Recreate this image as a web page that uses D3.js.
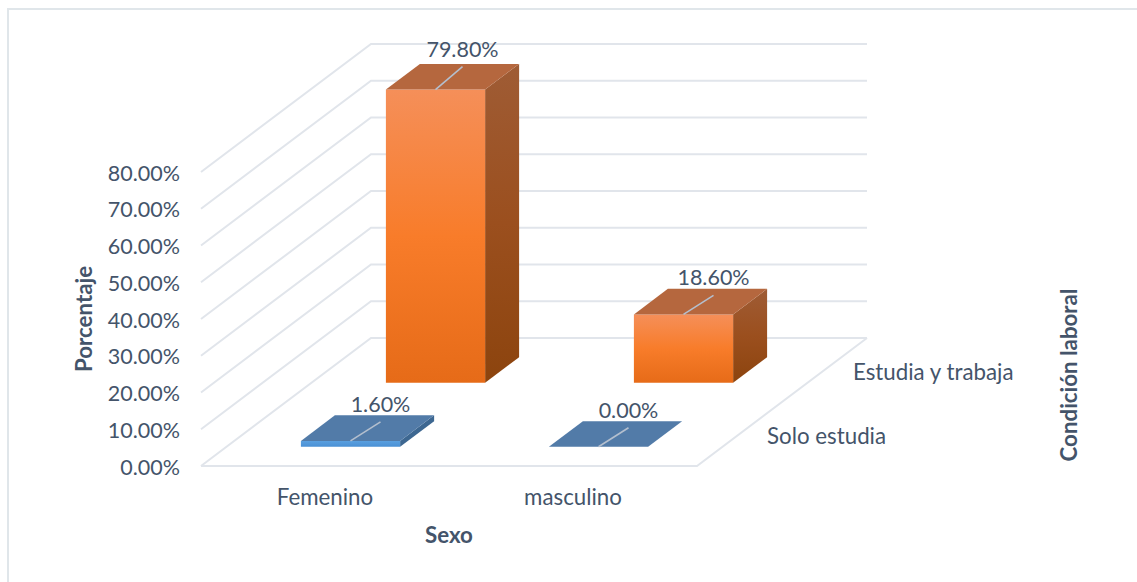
<!DOCTYPE html>
<html><head><meta charset="utf-8">
<script src="https://cdnjs.cloudflare.com/ajax/libs/d3/7.8.5/d3.min.js"></script>
<style>html,body{margin:0;padding:0;background:#fff}svg{display:block}text{font-family:Lato,"Open Sans",sans-serif;fill:#44546a}</style>
</head><body><svg id="c" width="1137" height="582"></svg>
<script>
const categories = ["Femenino", "masculino"];
const seriesNames = ["Solo estudia", "Estudia y trabaja"];
const soloEstudia = [1.6, 0];
const estudiaYTrabaja = [79.8, 18.6];
const valueTicks = [0, 10, 20, 30, 40, 50, 60, 70, 80];

const svg = d3.select("#c");
const defs = svg.append("defs");
function grad(id, stops) {
  const g = defs.append("linearGradient").attr("id", id).attr("x1", 0).attr("x2", 0).attr("y1", 0).attr("y2", 1);
  stops.forEach(s => g.append("stop").attr("offset", s[0]).attr("stop-color", s[1]));
}
grad("oF", [[0, "#f58f59"], [.5, "#f87c2a"], [1, "#e66b18"]]);
grad("oS", [[0, "#9f5c35"], [.5, "#9b4f1e"], [1, "#8c440e"]]);
grad("bF", [[0, "#5aa0e0"], [1, "#4a90d4"]]);

const x = d3.scaleBand().domain(categories).range([201, 697]);
const y = d3.scaleLinear().domain([0, 80]).range([466, 172]);
const z = d3.scaleLinear().domain([0, 1]).range([0, 1]);
const dX = 170, dY = 128;
const project = (px, v, d) => [px + dX * z(d), y(v) - dY * z(d)];
const line = d3.line();
const gridCol = "#e1e5eb";

// frame
svg.append("path").attr("d", "M8,582V9H1137").attr("fill", "none").attr("stroke", "#e0e6ea").attr("stroke-width", 2);

const grid = svg.append("g").attr("fill", "none").attr("stroke", gridCol).attr("stroke-width", 2);
valueTicks.forEach(t => {
  grid.append("path").attr("d", line([project(201, t, 0), project(201, t, 1), [867, y(t) - dY]]));
});
grid.append("path").attr("d", line([project(201, 0, 0), project(697, 0, 0), project(697, 0, 1)]));

// bars
const barW = 0.4 * x.bandwidth(), inset = 0.3 * x.bandwidth();
function bar(cat, value, series) {
  const z0 = series === 0 ? 0.15 : 0.65, z1 = z0 + 0.2;
  const l = x(cat) + inset, r = l + barW;
  const P = (px, v, d) => project(px, v, d);
  const g = svg.append("g");
  const colors = series === 0
    ? { top: "#527ba8", side: "#3d6791", front: "url(#bF)" }
    : { top: "#b5673e", side: "url(#oS)", front: "url(#oF)" };
  if (value > 0) {
    g.append("path").attr("fill", colors.side).attr("d", line([P(r, 0, z0), P(r, 0, z1), P(r, value, z1), P(r, value, z0)]) + "Z");
    g.append("path").attr("fill", colors.front).attr("d", line([P(l, 0, z0), P(r, 0, z0), P(r, value, z0), P(l, value, z0)]) + "Z");
  }
  g.append("path").attr("fill", colors.top).attr("d", line([P(l, value, z0), P(r, value, z0), P(r, value, z1), P(l, value, z1)]) + "Z");
  const a = P((l + r) / 2, value, z0);
  const tall = value > 50;
  const ex = a[0] + (tall ? 27 : 30), ey = a[1] - (tall ? 23 : 19);
  g.append("line").attr("x1", a[0]).attr("y1", a[1]).attr("x2", ex).attr("y2", ey)
    .attr("stroke", "#b4bfce").attr("stroke-width", 1.6);
  g.append("text").attr("x", ex).attr("y", ey - 10).attr("text-anchor", "middle")
    .attr("font-size", 21.5).text(value.toFixed(2) + "%");
}
categories.forEach((c, i) => bar(c, estudiaYTrabaja[i], 1));
categories.forEach((c, i) => bar(c, soloEstudia[i], 0));

// tick labels
const tick = svg.append("g");
valueTicks.forEach(t => {
  tick.append("text").attr("font-size", 21.5).attr("x", 180).attr("y", y(t) + 1).attr("dy", "0.35em").attr("text-anchor", "end").text(t.toFixed(2) + "%");
});
categories.forEach(c => {
  tick.append("text").attr("font-size", 22.3).attr("x", x(c) + x.bandwidth() / 2).attr("y", 505).attr("text-anchor", "middle").text(c);
});
tick.append("text").attr("font-size", 22.3).attr("x", 767).attr("y", 444).text(seriesNames[0]);
tick.append("text").attr("font-size", 22.3).attr("x", 853).attr("y", 380).text(seriesNames[1]);

// axis titles
const ttl = svg.append("g").attr("font-size", 22.3).attr("font-weight", 700);
ttl.append("text").attr("x", 449).attr("y", 543).attr("text-anchor", "middle").text("Sexo");
ttl.append("text").attr("transform", "translate(92,319) rotate(-90)").attr("text-anchor", "middle").text("Porcentaje");
ttl.append("text").attr("transform", "translate(1077,375) rotate(-90)").attr("text-anchor", "middle").text("Condición laboral");
</script></body></html>
